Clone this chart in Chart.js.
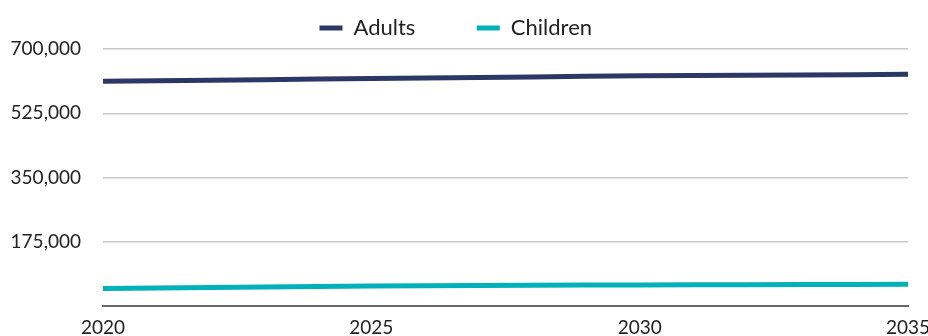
<!DOCTYPE html>
<html>
<head>
<meta charset="utf-8">
<script src="https://cdn.jsdelivr.net/npm/chart.js@4"></script>
<style>
  html, body { margin: 0; padding: 0; background: #fff; }
  #wrap { width: 928px; height: 336px; }
</style>
</head>
<body>
<div id="wrap"><canvas id="chart"></canvas></div>
<script>
const years = ['2020', '2021', '2022', '2023', '2024', '2025', '2026', '2027',
  '2028', '2029', '2030', '2031', '2032', '2033', '2034', '2035'];
const adults = [612000, 613500, 615000, 616500, 618000, 619500, 621000, 622500,
  624000, 625500, 627000, 627800, 628600, 629400, 630200, 631000];
const children = [48000, 49300, 50600, 51900, 53200, 54500, 55100, 55700,
  56300, 56900, 57500, 57800, 58100, 58400, 58700, 59000];
const yTicks = [0, 175000, 350000, 525000, 700000];

const ctx = document.getElementById('chart').getContext('2d');
new Chart(ctx, {
  type: 'line',
  data: {
    labels: years,
    datasets: [
      {
        label: 'Adults',
        data: adults,
        borderColor: '#2b3866',
        backgroundColor: '#2b3866',
        borderWidth: 5,
        pointRadius: 0,
        tension: 0
      },
      {
        label: 'Children',
        data: children,
        borderColor: '#00b1ba',
        backgroundColor: '#00b1ba',
        borderWidth: 5,
        pointRadius: 0,
        tension: 0
      }
    ]
  },
  options: {
    responsive: true,
    maintainAspectRatio: false,
    animation: false,
    layout: { padding: { top: 5, left: 0, right: 0, bottom: 0 } },
    plugins: {
      tooltip: { enabled: false },
      legend: {
        position: 'top',
        labels: {
          color: '#222',
          font: { family: 'Lato', size: 22 },
          boxWidth: 23,
          boxHeight: 5,
          padding: 12,
          generateLabels: (chart) => {
            const items = Chart.defaults.plugins.legend.labels.generateLabels(chart);
            items.forEach((it, i) => {
              it.lineWidth = 0;
              // spacing so the entries sit where the original has them
              it.text = it.text + (i === 0 ? '\u2003\u2003\u2003' : '\u2003');
            });
            return items;
          }
        }
      }
    },
    scales: {
      x: {
        grid: { display: false, drawTicks: false },
        border: { display: true, color: '#666', width: 2 },
        afterFit: (axis) => {
          axis.height = 30;
          axis.paddingLeft = 0;
          axis.paddingRight = 20;
        },
        ticks: {
          color: '#222',
          font: { family: 'Lato', size: 19 },
          autoSkip: false,
          maxRotation: 0,
          padding: 10,
          callback: function (value, index) {
            const lab = this.getLabelForValue(value);
            return index % 5 === 0 ? lab : '';
          }
        }
      },
      y: {
        min: 0,
        max: 700000,
        afterBuildTicks: (axis) => { axis.ticks = yTicks.map((v) => ({ value: v })); },
        afterFit: (axis) => {
          axis.width = 103;
          axis.paddingTop = 0;
          axis.paddingBottom = 0;
        },
        grid: { color: '#c8c8c8', lineWidth: 1.5, drawTicks: false },
        border: { display: false },
        ticks: {
          color: '#222',
          font: { family: 'Lato', size: 19 },
          padding: 22,
          callback: (v) => v === 0 ? '' : v.toLocaleString('en-US')
        }
      }
    }
  }
});
</script>
</body>
</html>
